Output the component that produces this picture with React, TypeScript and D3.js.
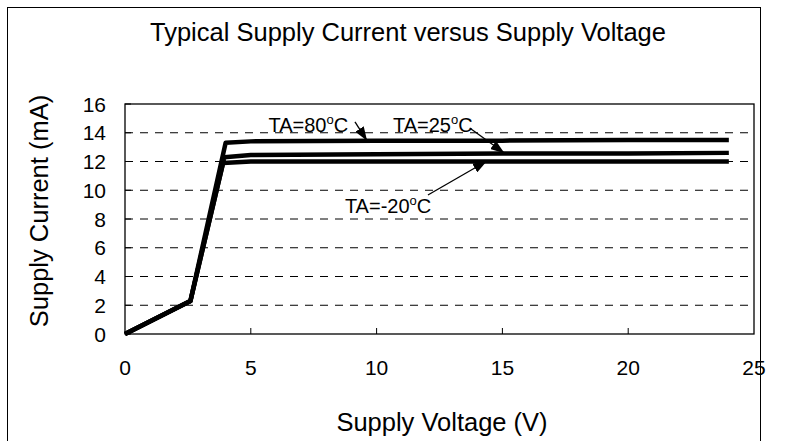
import React from "react";
import * as d3 from "d3";

// Supply voltage (V) vs supply current (mA)
const voltsLow = [0, 2.6, 3.9, 5, 10, 15, 20, 24];
const currentLow = [0, 2.3, 11.9, 12.0, 12.0, 12.0, 12.0, 12.0];
const voltsMid = [0, 2.6, 3.95, 5, 10, 15, 20, 24];
const currentMid = [0, 2.3, 12.3, 12.45, 12.5, 12.55, 12.55, 12.6];
const voltsHigh = [0, 2.6, 4.0, 5, 10, 15, 20, 24];
const currentHigh = [0, 2.3, 13.3, 13.4, 13.45, 13.45, 13.5, 13.5];

const xTicks = [0, 5, 10, 15, 20, 25];
const yTicks = [0, 2, 4, 6, 8, 10, 12, 14, 16];

// annotation labels: text start, and arrow from -> to, in data units
const labels = [
  { name: "TA=80", deg: "C", tx: 5.7, ty: 14.05, from: [9.14, 14.75], to: [9.6, 13.5] },
  { name: "TA=25", deg: "C", tx: 10.65, ty: 14.05, from: [13.7, 14.33], to: [15.05, 12.62] },
  { name: "TA=-20", deg: "C", tx: 8.74, ty: 8.42, from: [12.04, 9.67], to: [14.35, 12.0] },
];

const series = [
  { key: "low", x: voltsLow, y: currentLow },
  { key: "mid", x: voltsMid, y: currentMid },
  { key: "high", x: voltsHigh, y: currentHigh },
];

const font = "'Liberation Sans', Arial, sans-serif";

const App: React.FC = () => {
  const W = 788;
  const H = 441;
  const plot = { left: 125, right: 754, top: 104, bottom: 334 };

  const x = d3.scaleLinear().domain([0, 25]).range([plot.left, plot.right]);
  const y = d3.scaleLinear().domain([0, 16]).range([plot.bottom, plot.top]);

  const line = d3
    .line<[number, number]>()
    .x((d) => x(d[0]))
    .y((d) => y(d[1]));

  return (
    <svg
      width={W}
      height={H}
      style={{ position: "absolute", left: 0, top: 0, background: "#fff" }}
      fontFamily={font}
    >
      <defs>
        <marker id="arrow" viewBox="0 0 14 10" refX="13" refY="5" markerWidth="14" markerHeight="10"
          markerUnits="userSpaceOnUse" orient="auto">
          <path d="M0,0 L14,5 L0,10 Z" fill="#000" />
        </marker>
      </defs>

      {/* outer chart frame */}
      <rect x={7.5} y={7.5} width={753} height={460} fill="#fff" stroke="#000" strokeWidth={1} />

      <text x={408} y={41} textAnchor="middle" fontSize={25.5}>
        Typical Supply Current versus Supply Voltage
      </text>

      {/* grid */}
      {yTicks.slice(1, -1).map((t) => (
        <line key={`g${t}`} x1={plot.left} x2={plot.right} y1={y(t)} y2={y(t)}
          stroke="#000" strokeWidth={1} strokeDasharray="8,7" />
      ))}

      <rect x={plot.left} y={plot.top} width={plot.right - plot.left} height={plot.bottom - plot.top}
        fill="none" stroke="#000" strokeWidth={1.3} />

      {/* ticks */}
      {xTicks.slice(1, -1).map((t) => (
        <line key={`xt${t}`} x1={x(t)} x2={x(t)} y1={plot.bottom} y2={plot.bottom - 6} stroke="#000" />
      ))}
      {yTicks.map((t) => (
        <line key={`yt${t}`} x1={plot.left} x2={plot.left + 6} y1={y(t)} y2={y(t)} stroke="#000" />
      ))}

      {xTicks.map((t) => (
        <text key={`xl${t}`} x={x(t)} y={375} textAnchor="middle" fontSize={21}>{t}</text>
      ))}
      {yTicks.map((t) => (
        <text key={`yl${t}`} x={106} y={y(t) + 7.5} textAnchor="end" fontSize={21}>{t}</text>
      ))}

      <text x={442} y={431} textAnchor="middle" fontSize={25.5}>Supply Voltage (V)</text>
      <text transform={`translate(48, 211) rotate(-90)`} textAnchor="middle" fontSize={25.5}>
        Supply Current (mA)
      </text>

      {/* curves */}
      {series.map((s) => (
        <path key={s.key} d={line(s.x.map((v, i) => [v, s.y[i]] as [number, number])) || ""}
          fill="none" stroke="#000" strokeWidth={4.5} strokeLinejoin="round" />
      ))}

      {/* annotations */}
      {labels.map((l) => (
        <g key={l.name}>
          <text x={x(l.tx)} y={y(l.ty)} fontSize={20}>
            {l.name}
            <tspan fontSize={13} dy={-8}>o</tspan>
            <tspan dy={8}>{l.deg}</tspan>
          </text>
          <line x1={x(l.from[0])} y1={y(l.from[1])} x2={x(l.to[0])} y2={y(l.to[1])}
            stroke="#000" strokeWidth={1.3} markerEnd="url(#arrow)" />
        </g>
      ))}
    </svg>
  );
};

export default App;
